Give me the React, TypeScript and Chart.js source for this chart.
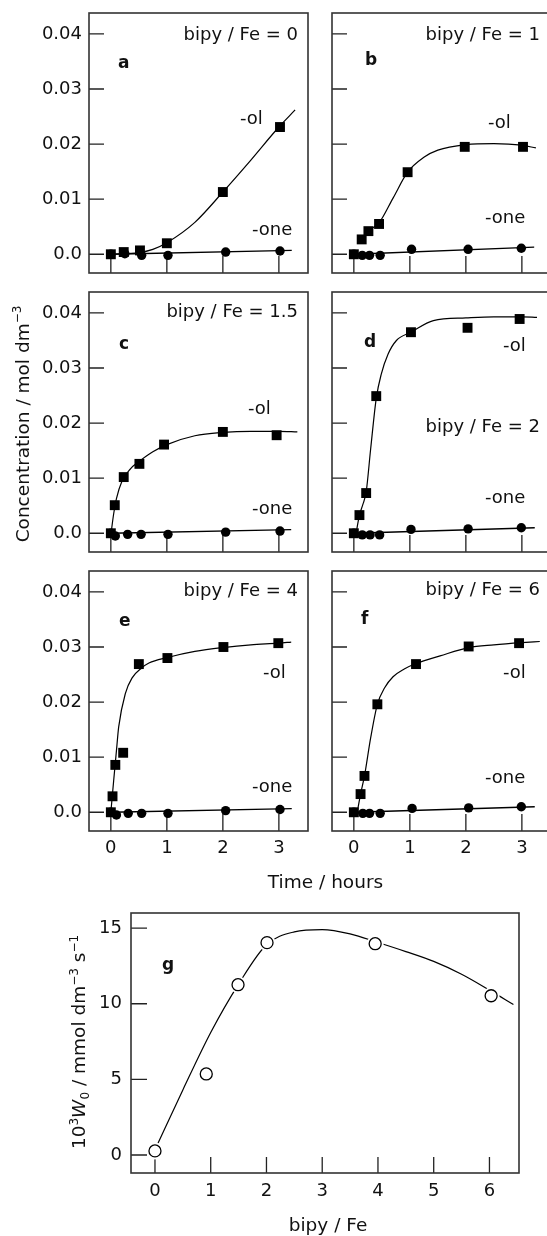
import React, { useEffect, useRef } from 'react';
import { Chart, registerables } from 'chart.js';

Chart.register(...registerables);

// ---------------- data ----------------
const timeTicks = [0, 1, 2, 3];
const timeTickLabels = ['0', '1', '2', '3'];
const concTicks = [0, 0.01, 0.02, 0.03, 0.04];
const concTickLabels = ['0.0', '0.01', '0.02', '0.03', '0.04'];

// a: bipy / Fe = 0
const aOlTime = [0, 0.23, 0.52, 1.0, 2.0, 3.02];
const aOl = [0, 0.0004, 0.0007, 0.002, 0.0113, 0.0231];
const aOneTime = [0, 0.25, 0.55, 1.02, 2.05, 3.02];
const aOne = [0, 0.0001, -0.0002, -0.0002, 0.0004, 0.0006];
const aFitTime = [0, 0.5, 0.75, 1.0, 1.5, 2.0, 2.5, 3.0, 3.29];
const aFit = [0, 0.0003, 0.0009, 0.0021, 0.0058, 0.0113, 0.0171, 0.0231, 0.0262];
const aOneFitTime = [0, 3.23];
const aOneFit = [0, 0.0007];

// b: bipy / Fe = 1
const bOlTime = [0, 0.14, 0.26, 0.45, 0.96, 1.98, 3.02];
const bOl = [0, 0.0027, 0.0042, 0.0055, 0.0149, 0.0195, 0.0195];
const bOneTime = [0, 0.15, 0.28, 0.47, 1.03, 2.04, 2.99];
const bOne = [0, -0.0002, -0.0002, -0.0002, 0.0009, 0.0009, 0.0011];
const bFitTime = [0.12, 0.26, 0.45, 0.7, 0.96, 1.25, 1.5, 2.0, 2.5, 3.0, 3.25];
const bFit = [0.0022, 0.0042, 0.0057, 0.0102, 0.0149, 0.0176, 0.0189, 0.0199, 0.0201, 0.0198, 0.0193];
const bOneFitTime = [0, 3.22];
const bOneFit = [0, 0.0013];

// c: bipy / Fe = 1.5
const cOlTime = [0, 0.07, 0.23, 0.51, 0.95, 2.0, 2.96];
const cOl = [0, 0.0051, 0.0102, 0.0126, 0.0161, 0.0184, 0.0178];
const cOneTime = [0, 0.08, 0.3, 0.54, 1.02, 2.05, 3.02];
const cOne = [0, -0.0005, -0.0002, -0.0002, -0.0002, 0.0002, 0.0004];
const cFitTime = [0, 0.05, 0.1, 0.2, 0.35, 0.5, 0.75, 1.0, 1.5, 2.0, 2.5, 3.0, 3.33];
const cFit = [-0.0003, 0.0035, 0.0063, 0.0095, 0.0117, 0.013, 0.0148, 0.0161, 0.0177, 0.0183, 0.0185, 0.0185, 0.0184];
const cOneFitTime = [0, 3.22];
const cOneFit = [0, 0.00066];

// d: bipy / Fe = 2
const dOlTime = [0, 0.1, 0.22, 0.4, 1.02, 2.03, 2.96];
const dOl = [0, 0.0033, 0.0073, 0.0249, 0.0365, 0.0373, 0.0389];
const dOneTime = [0, 0.15, 0.29, 0.46, 1.02, 2.04, 2.99];
const dOne = [0, -0.0003, -0.0003, -0.0003, 0.0007, 0.0008, 0.001];
const dFitTime = [0.04, 0.1, 0.16, 0.22, 0.3, 0.4, 0.49, 0.61, 0.76, 1.02, 1.42, 2.0, 2.5, 3.0, 3.27];
const dFit = [0, 0.0033, 0.0052, 0.0075, 0.0153, 0.0245, 0.0289, 0.0325, 0.035, 0.0365, 0.0386, 0.0391, 0.0393, 0.0393, 0.0392];
const dOneFitTime = [0, 3.23];
const dOneFit = [0, 0.001];

// e: bipy / Fe = 4
const eOlTime = [0, 0.03, 0.08, 0.22, 0.5, 1.01, 2.01, 2.99];
const eOl = [0, 0.0029, 0.0086, 0.0108, 0.0269, 0.028, 0.03, 0.0307];
const eOneTime = [0, 0.1, 0.31, 0.55, 1.02, 2.05, 3.02];
const eOne = [0, -0.0005, -0.0002, -0.0002, -0.0002, 0.0003, 0.0005];
const eFitTime = [0, 0.05, 0.1, 0.14, 0.26, 0.38, 0.55, 0.68, 1.01, 1.5, 2.0, 2.5, 3.0, 3.22];
const eFit = [0, 0.0057, 0.0112, 0.0155, 0.0216, 0.0244, 0.0262, 0.0271, 0.0281, 0.0292, 0.0299, 0.0304, 0.0307, 0.0309];
const eOneFitTime = [0, 3.23];
const eOneFit = [0, 0.00066];

// f: bipy / Fe = 6
const fOlTime = [0, 0.12, 0.19, 0.42, 1.11, 2.05, 2.95];
const fOl = [0, 0.0033, 0.0066, 0.0196, 0.0269, 0.0301, 0.0307];
const fOneTime = [0, 0.16, 0.28, 0.47, 1.04, 2.05, 2.99];
const fOne = [0, -0.0002, -0.0002, -0.0002, 0.0007, 0.0008, 0.001];
const fFitTime = [0.06, 0.12, 0.19, 0.3, 0.42, 0.55, 0.7, 0.9, 1.11, 1.54, 2.05, 2.5, 3.0, 3.32];
const fFit = [0, 0.0033, 0.0066, 0.0135, 0.0196, 0.0226, 0.0246, 0.026, 0.027, 0.0284, 0.0299, 0.0304, 0.0308, 0.031];
const fOneFitTime = [0, 3.23];
const fOneFit = [0, 0.001];

// g: initial rate vs bipy / Fe
const ratioTicks = [0, 1, 2, 3, 4, 5, 6];
const ratioTickLabels = ['0', '1', '2', '3', '4', '5', '6'];
const rateTicks = [0, 5, 10, 15];
const rateTickLabels = ['0', '5', '10', '15'];
const gRatio = [0, 0.92, 1.49, 2.01, 3.95, 6.03];
const gRate = [0.27, 5.36, 11.26, 14.04, 13.97, 10.53];
const gFitRatio = [0, 0.5, 1.0, 1.5, 2.0, 2.5, 3.0, 3.5, 4.0, 4.5, 5.0, 5.5, 6.0, 6.43];
const gFitRate = [0.35, 4.3, 8.1, 11.3, 13.9, 14.75, 14.9, 14.62, 14.05, 13.45, 12.8, 11.95, 10.9, 9.95];

// ---------------- helpers ----------------
const FAM = '"DejaVu Sans", "Liberation Sans", sans-serif';
const fnt = (size: number, weight = 'normal', style = 'normal') => `${style} ${weight} ${size}px ${FAM}`;
type Seg = { t: string; font: string; dy?: number };
type Txt = { segs: Seg[]; x: number; y: number; align: 'left' | 'right' | 'center'; rotate?: boolean };
const plain = (t: string, size = 18): Seg[] => [{ t, font: fnt(size) }];
const boldL = (t: string): Seg[] => [{ t, font: fnt(17, 'bold') }];
const txt = (segs: Seg[], x: number, y: number, align: 'left' | 'right' | 'center', rotate = false): Txt => ({ segs, x, y, align, rotate });

const pts = (xs: number[], ys: number[]) => xs.map((x, i) => ({ x, y: ys[i] }));

function drawRich(ctx: CanvasRenderingContext2D, segs: Seg[], x: number, y: number, align: string, rotate: boolean) {
  ctx.save();
  ctx.translate(x, y);
  if (rotate) ctx.rotate(-Math.PI / 2);
  let total = 0;
  const widths = segs.map((s) => {
    ctx.font = s.font;
    const w = ctx.measureText(s.t).width;
    total += w;
    return w;
  });
  let cx = align === 'center' ? -total / 2 : align === 'right' ? -total : 0;
  ctx.textAlign = 'left';
  ctx.textBaseline = 'alphabetic';
  ctx.fillStyle = '#111';
  segs.forEach((s, i) => {
    ctx.font = s.font;
    ctx.fillText(s.t, cx, s.dy || 0);
    cx += widths[i];
  });
  ctx.restore();
}

function makeDecor(origin: [number, number], texts: Txt[], xTickLen: number, yTickLen: number) {
  return {
    id: 'decor',
    beforeDatasetsDraw(chart: any) {
      const { ctx, chartArea: ca, scales } = chart;
      ctx.save();
      ctx.strokeStyle = '#222';
      ctx.lineWidth = 1.3;
      ctx.beginPath();
      scales.x.ticks.forEach((t: any) => {
        const px = scales.x.getPixelForValue(t.value);
        ctx.moveTo(px, ca.bottom);
        ctx.lineTo(px, ca.bottom - xTickLen);
      });
      scales.y.ticks.forEach((t: any) => {
        const py = scales.y.getPixelForValue(t.value);
        ctx.moveTo(ca.left, py);
        ctx.lineTo(ca.left + yTickLen, py);
      });
      ctx.stroke();
      ctx.restore();
    },
    afterDraw(chart: any) {
      const { ctx, chartArea: ca } = chart;
      ctx.save();
      ctx.strokeStyle = '#333';
      ctx.lineWidth = 1.6;
      ctx.strokeRect(ca.left, ca.top, ca.right - ca.left, ca.bottom - ca.top);
      ctx.restore();
      texts.forEach((t) => drawRich(ctx, t.segs, t.x - origin[0], t.y - origin[1], t.align, !!t.rotate));
    },
  };
}

interface Box {
  left: number; top: number; width: number; height: number;
  padRight: number; yWidth: number; xHeight: number; showX: boolean; showY: boolean;
}
interface SmallPanel extends Box {
  olT: number[]; ol: number[]; oneT: number[]; one: number[];
  fitT: number[]; fit: number[]; oneFitT: number[]; oneFit: number[];
  texts: Txt[];
}

const supF = fnt(12);

const concTitle: Txt = txt(
  [{ t: 'Concentration / mol dm', font: fnt(18.5) }, { t: '\u22123', font: supF, dy: -7.5 }],
  28.5, 424, 'center', true
);

const panels: SmallPanel[] = [
  {
    left: 0, top: 11, width: 310, height: 264, padRight: 2, yWidth: 89, xHeight: 2, showX: false, showY: true,
    olT: aOlTime, ol: aOl, oneT: aOneTime, one: aOne, fitT: aFitTime, fit: aFit, oneFitT: aOneFitTime, oneFit: aOneFit,
    texts: [
      txt(plain('bipy / Fe = 0'), 298, 39.5, 'right'),
      txt(boldL('a'), 118, 67.5, 'left'),
      txt(plain('-ol'), 240, 124, 'left'),
      txt(plain('-one'), 252, 235, 'left'),
    ],
  },
  {
    left: 330, top: 11, width: 223, height: 264, padRight: 2, yWidth: 2, xHeight: 2, showX: false, showY: false,
    olT: bOlTime, ol: bOl, oneT: bOneTime, one: bOne, fitT: bFitTime, fit: bFit, oneFitT: bOneFitTime, oneFit: bOneFit,
    texts: [
      txt(plain('bipy / Fe = 1'), 540, 39.5, 'right'),
      txt(boldL('b'), 365, 65, 'left'),
      txt(plain('-ol'), 488, 128.3, 'left'),
      txt(plain('-one'), 485, 223.3, 'left'),
    ],
  },
  {
    left: 0, top: 290, width: 310, height: 264, padRight: 2, yWidth: 89, xHeight: 2, showX: false, showY: true,
    olT: cOlTime, ol: cOl, oneT: cOneTime, one: cOne, fitT: cFitTime, fit: cFit, oneFitT: cOneFitTime, oneFit: cOneFit,
    texts: [
      txt(plain('bipy / Fe = 1.5'), 298, 317.3, 'right'),
      txt(boldL('c'), 119, 349.3, 'left'),
      txt(plain('-ol'), 248, 414, 'left'),
      txt(plain('-one'), 252, 514, 'left'),
      concTitle,
    ],
  },
  {
    left: 330, top: 290, width: 223, height: 264, padRight: 2, yWidth: 2, xHeight: 2, showX: false, showY: false,
    olT: dOlTime, ol: dOl, oneT: dOneTime, one: dOne, fitT: dFitTime, fit: dFit, oneFitT: dOneFitTime, oneFit: dOneFit,
    texts: [
      txt(plain('bipy / Fe = 2'), 540, 432.3, 'right'),
      txt(boldL('d'), 364, 346.7, 'left'),
      txt(plain('-ol'), 503, 350.7, 'left'),
      txt(plain('-one'), 485, 503.3, 'left'),
    ],
  },
  {
    left: 0, top: 569, width: 400, height: 328, padRight: 92, yWidth: 89, xHeight: 66, showX: true, showY: true,
    olT: eOlTime, ol: eOl, oneT: eOneTime, one: eOne, fitT: eFitTime, fit: eFit, oneFitT: eOneFitTime, oneFit: eOneFit,
    texts: [
      txt(plain('bipy / Fe = 4'), 298, 596, 'right'),
      txt(boldL('e'), 119, 625.7, 'left'),
      txt(plain('-ol'), 263, 678.3, 'left'),
      txt(plain('-one'), 252, 791.7, 'left'),
      txt(plain('Time / hours', 18.5), 325.5, 888, 'center'),
    ],
  },
  {
    left: 330, top: 569, width: 223, height: 328, padRight: 2, yWidth: 2, xHeight: 66, showX: true, showY: false,
    olT: fOlTime, ol: fOl, oneT: fOneTime, one: fOne, fitT: fFitTime, fit: fFit, oneFitT: fOneFitTime, oneFit: fOneFit,
    texts: [
      txt(plain('bipy / Fe = 6'), 540, 595, 'right'),
      txt(boldL('f'), 361, 624.3, 'left'),
      txt(plain('-ol'), 503, 678.3, 'left'),
      txt(plain('-one'), 485, 782.7, 'left'),
    ],
  },
];

const gBox: Box = { left: 40, top: 911, width: 481, height: 325, padRight: 2, yWidth: 91, xHeight: 63, showX: true, showY: true };
const gTexts: Txt[] = [
  txt(boldL('g'), 162, 970, 'left'),
  txt(plain('bipy / Fe', 18.5), 328, 1231, 'center'),
  txt(
    [
      { t: '10', font: fnt(18.5) },
      { t: '3', font: supF, dy: -7.5 },
      { t: 'W', font: fnt(18.5, 'normal', 'italic') },
      { t: '0', font: supF, dy: 4 },
      { t: ' / mmol dm', font: fnt(18.5) },
      { t: '\u22123', font: supF, dy: -7.5 },
      { t: ' s', font: fnt(18.5) },
      { t: '\u22121', font: supF, dy: -7.5 },
    ],
    85, 1042, 'center', true
  ),
];

function axisOpts(opts: {
  min: number; max: number; ticks: number[]; labels: string[]; show: boolean; pad: number;
  size: (s: any) => void;
}) {
  return {
    type: 'linear',
    min: opts.min,
    max: opts.max,
    afterBuildTicks: (s: any) => { s.ticks = opts.ticks.map((v) => ({ value: v })); },
    afterFit: (s: any) => {
      opts.size(s);
      s.paddingTop = 0;
      s.paddingBottom = 0;
      s.paddingLeft = 0;
      s.paddingRight = 0;
    },
    grid: { display: false, drawTicks: false },
    border: { display: false },
    ticks: {
      display: opts.show,
      padding: opts.pad,
      autoSkip: false,
      maxRotation: 0,
      minRotation: 0,
      color: '#111',
      font: { family: FAM, size: 18 },
      callback: (v: number) => {
        const i = opts.ticks.findIndex((t) => Math.abs(t - v) < 1e-9);
        return i >= 0 ? opts.labels[i] : '';
      },
    },
  };
}

function baseOptions(b: Box, scales: any) {
  return {
    animation: false,
    responsive: false,
    devicePixelRatio: 1,
    events: [],
    layout: { autoPadding: false, padding: { top: 2, right: b.padRight, bottom: 0, left: 0 } },
    plugins: { legend: { display: false }, tooltip: { enabled: false }, title: { display: false } },
    scales,
  };
}

function smallConfig(p: SmallPanel): any {
  return {
    type: 'scatter',
    data: {
      datasets: [
        { label: '-ol', data: pts(p.olT, p.ol), pointStyle: 'rect', pointRadius: 7, pointBorderWidth: 0, pointBackgroundColor: '#000', backgroundColor: '#000', showLine: false, order: 0 },
        { label: '-one', data: pts(p.oneT, p.one), pointStyle: 'circle', pointRadius: 4.7, pointBorderWidth: 0, pointBackgroundColor: '#000', backgroundColor: '#000', showLine: false, order: 1 },
        { label: '-ol fit', data: pts(p.fitT, p.fit), showLine: true, pointRadius: 0, borderColor: '#000', borderWidth: 1.2, cubicInterpolationMode: 'monotone', order: 2 },
        { label: '-one fit', data: pts(p.oneFitT, p.oneFit), showLine: true, pointRadius: 0, borderColor: '#000', borderWidth: 1.3, order: 3 },
      ],
    },
    options: baseOptions(p, {
      x: axisOpts({ min: -0.39, max: 3.52, ticks: timeTicks, labels: timeTickLabels, show: p.showX, pad: 7, size: (s: any) => { s.height = p.xHeight; } }),
      y: axisOpts({ min: -0.0034, max: 0.0438, ticks: concTicks, labels: concTickLabels, show: p.showY, pad: 7, size: (s: any) => { s.width = p.yWidth; } }),
    }),
    plugins: [makeDecor([p.left, p.top], p.texts, 17, 15)],
  };
}

function gConfig(): any {
  const b = gBox;
  return {
    type: 'scatter',
    data: {
      datasets: [
        { label: 'W0', data: pts(gRatio, gRate), pointStyle: 'circle', pointRadius: 6, pointBorderWidth: 1.3, pointBorderColor: '#000', pointBackgroundColor: '#fff', showLine: false, order: 0 },
        { label: 'halo', data: pts(gRatio, gRate), pointStyle: 'circle', pointRadius: 8.5, pointBorderWidth: 0, pointBackgroundColor: '#fff', showLine: false, order: 1 },
        { label: 'fit', data: pts(gFitRatio, gFitRate), showLine: true, pointRadius: 0, borderColor: '#000', borderWidth: 1.2, cubicInterpolationMode: 'monotone', order: 2 },
      ],
    },
    options: baseOptions(b, {
      x: axisOpts({ min: -0.43, max: 6.53, ticks: ratioTicks, labels: ratioTickLabels, show: true, pad: 8, size: (s: any) => { s.height = b.xHeight; } }),
      y: axisOpts({ min: -1.19, max: 16.0, ticks: rateTicks, labels: rateTickLabels, show: true, pad: 9, size: (s: any) => { s.width = b.yWidth; } }),
    }),
    plugins: [makeDecor([b.left, b.top], gTexts, 16, 16)],
  };
}

function ChartCanvas({ box, makeConfig }: { box: Box; makeConfig: () => any }) {
  const ref = useRef<HTMLCanvasElement | null>(null);
  useEffect(() => {
    if (!ref.current) return;
    const chart = new Chart(ref.current, makeConfig());
    return () => chart.destroy();
  }, []);
  return (
    <canvas
      ref={ref}
      width={box.width}
      height={box.height}
      style={{ position: 'absolute', left: box.left, top: box.top, width: box.width, height: box.height }}
    />
  );
}

export default function App() {
  return (
    <div
      style={{
        position: 'absolute', left: 0, top: 0, width: 547, height: 1236,
        overflow: 'hidden', background: '#fff',
      }}
    >
      {panels.map((p, i) => (
        <ChartCanvas key={i} box={p} makeConfig={() => smallConfig(p)} />
      ))}
      <ChartCanvas box={gBox} makeConfig={gConfig} />
    </div>
  );
}
